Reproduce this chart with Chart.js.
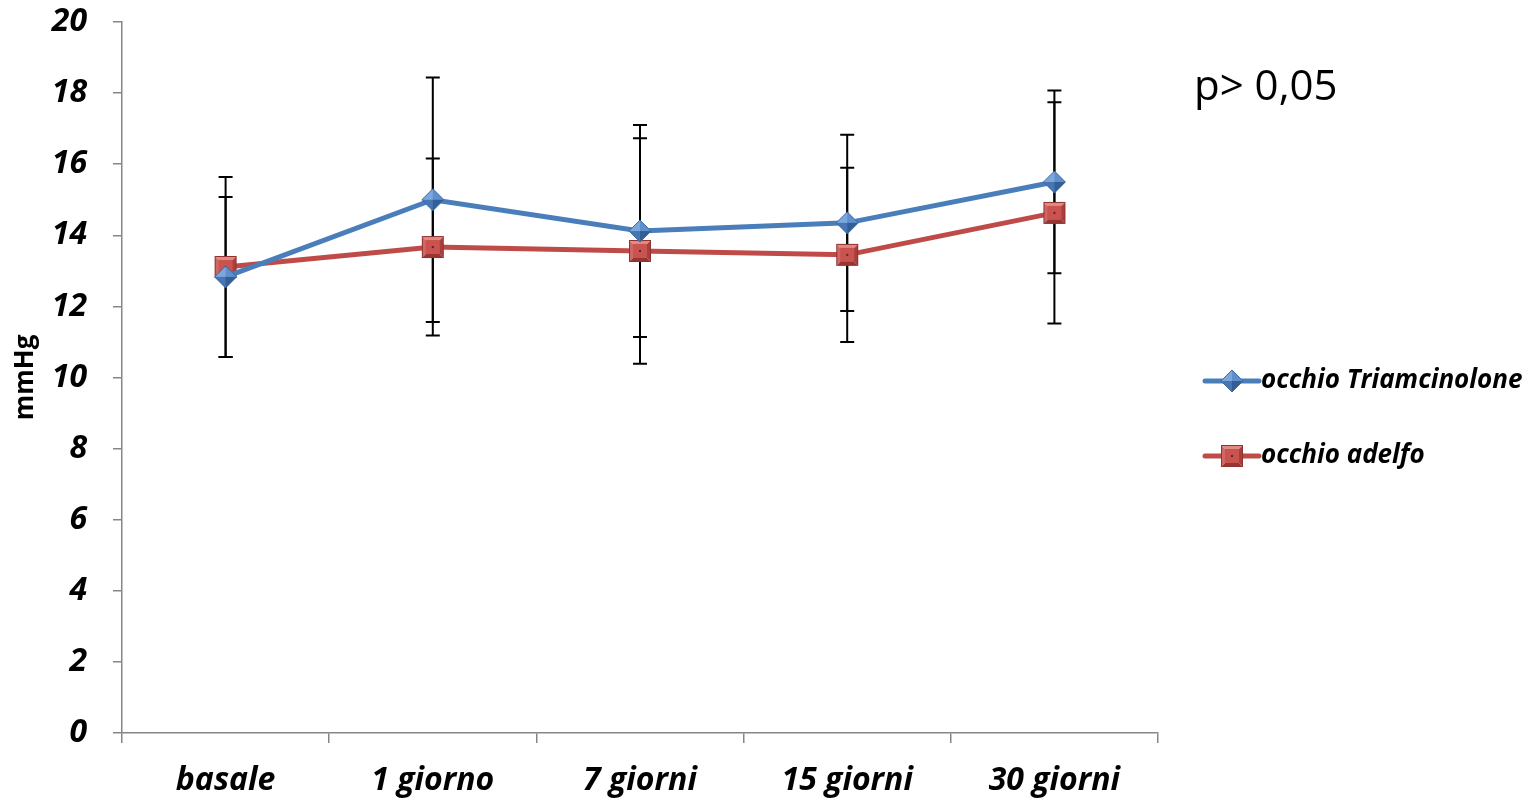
<!DOCTYPE html>
<html lang="it">
<head>
  <meta charset="UTF-8">
  <title>Pressione intraoculare</title>
  <script src="https://cdn.jsdelivr.net/npm/chart.js"></script>
  <style>
    html, body { margin: 0; padding: 0; background: #fff; }
    #wrap { width: 1528px; height: 800px; }
  </style>
</head>
<body>
<div id="wrap"><canvas id="iopChart" width="1528" height="800"></canvas></div>

<script>
  // data
  const categories = ["basale", "1 giorno", "7 giorni", "15 giorni", "30 giorni"];
  const triamValues = [12.83, 15.0, 14.12, 14.35, 15.5];
  const triamErr = [2.25, 3.44, 2.98, 2.48, 2.57];
  const adelfoValues = [13.11, 13.67, 13.56, 13.45, 14.63];
  const adelfoErr = [2.53, 2.49, 3.17, 2.45, 3.11];
  const yMin = 0, yMax = 20, yStep = 2;
  const pNote = "p> 0,05";

  const blue = "#4a7ebb";
  const red = "#be4b48";
  const axisGrey = "#868686";
  const fontFam = "'Open Sans', Lato, sans-serif";

  // bevelled marker images, a bit like the office ones
  function diamondMarker() {
    const c = document.createElement("canvas");
    c.width = 24; c.height = 24;
    const g = c.getContext("2d");
    const m = 12;
    const facets = [
      [[m, 1], [1, m], "#7aa7dc"],
      [[m, 1], [23, m], "#5f8fcc"],
      [[1, m], [m, 23], "#4677b4"],
      [[23, m], [m, 23], "#345f96"]
    ];
    for (const [a, b, col] of facets) {
      g.beginPath();
      g.moveTo(m, m); g.lineTo(a[0], a[1]); g.lineTo(b[0], b[1]); g.closePath();
      g.fillStyle = col; g.fill();
    }
    g.beginPath();
    g.moveTo(m, 1); g.lineTo(23, m); g.lineTo(m, 23); g.lineTo(1, m); g.closePath();
    g.strokeStyle = "#3d6aa3"; g.lineWidth = 1; g.stroke();
    return c;
  }

  function squareMarker() {
    const c = document.createElement("canvas");
    c.width = 24; c.height = 24;
    const g = c.getContext("2d");
    const o0 = 1, o1 = 23, i0 = 5, i1 = 19;
    const quad = (pts, col) => {
      g.beginPath();
      g.moveTo(pts[0][0], pts[0][1]);
      for (const p of pts.slice(1)) g.lineTo(p[0], p[1]);
      g.closePath(); g.fillStyle = col; g.fill();
    };
    quad([[o0, o0], [o1, o0], [i1, i0], [i0, i0]], "#e08a86");
    quad([[o0, o0], [i0, i0], [i0, i1], [o0, o1]], "#cf6764");
    quad([[o1, o0], [o1, o1], [i1, i1], [i1, i0]], "#a83f3c");
    quad([[o0, o1], [i0, i1], [i1, i1], [o1, o1]], "#963532");
    g.fillStyle = "#c9534f";
    g.fillRect(i0, i0, i1 - i0, i1 - i0);
    g.fillStyle = "#6e2220";
    g.fillRect(11, 11, 2, 2);
    g.strokeStyle = "#8f3230"; g.lineWidth = 1;
    g.strokeRect(o0 + 0.5, o0 + 0.5, o1 - o0 - 1, o1 - o0 - 1);
    return c;
  }

  const triamMarker = diamondMarker();
  const adelfoMarker = squareMarker();

  const errorBars = {
    id: "errorBars",
    beforeDatasetsDraw(chart) {
      const ctx = chart.ctx;
      const y = chart.scales.y;
      ctx.save();
      ctx.strokeStyle = "#000";
      ctx.lineWidth = 2;
      chart.data.datasets.forEach((ds, di) => {
        const meta = chart.getDatasetMeta(di);
        meta.data.forEach((pt, i) => {
          const v = ds.data[i], e = ds.errors[i];
          const top = y.getPixelForValue(v + e);
          const bot = y.getPixelForValue(v - e);
          ctx.beginPath();
          ctx.moveTo(pt.x, top); ctx.lineTo(pt.x, bot);
          ctx.moveTo(pt.x - 7, top); ctx.lineTo(pt.x + 7, top);
          ctx.moveTo(pt.x - 7, bot); ctx.lineTo(pt.x + 7, bot);
          ctx.stroke();
        });
      });
      ctx.restore();
    }
  };

  const sideNotes = {
    id: "sideNotes",
    afterDraw(chart) {
      const ctx = chart.ctx;
      ctx.save();
      ctx.fillStyle = "#000";
      ctx.font = "42px " + fontFam;
      ctx.textBaseline = "middle";
      ctx.textAlign = "left";
      ctx.fillText(pNote, 1194, 88);

      const rows = [381, 456];
      const markers = [triamMarker, adelfoMarker];
      chart.data.datasets.forEach((ds, i) => {
        const yy = rows[i];
        ctx.strokeStyle = ds.borderColor;
        ctx.lineWidth = 5;
        ctx.lineCap = "round";
        ctx.beginPath();
        ctx.moveTo(1205, yy); ctx.lineTo(1259, yy);
        ctx.stroke();
        ctx.drawImage(markers[i], 1220, yy - 12);
        ctx.font = "italic bold 26px " + fontFam;
        ctx.fillStyle = "#000";
        ctx.fillText(ds.label, 1261, yy);
      });
      ctx.restore();
    }
  };

  new Chart(document.getElementById("iopChart").getContext("2d"), {
    type: "line",
    data: {
      labels: categories,
      datasets: [
        {
          label: "occhio Triamcinolone",
          data: triamValues,
          errors: triamErr,
          borderColor: blue,
          backgroundColor: blue,
          borderWidth: 5,
          tension: 0,
          pointStyle: triamMarker,
          pointRadius: 12
        },
        {
          label: "occhio adelfo",
          data: adelfoValues,
          errors: adelfoErr,
          borderColor: red,
          backgroundColor: red,
          borderWidth: 5,
          tension: 0,
          pointStyle: adelfoMarker,
          pointRadius: 12
        }
      ]
    },
    options: {
      responsive: false,
      animation: false,
      layout: { autoPadding: false, padding: { top: 22, right: 370, left: 0, bottom: 0 } },
      plugins: {
        legend: { display: false },
        tooltip: { enabled: false }
      },
      scales: {
        x: {
          offset: true,
          grid: {
            offset: true,
            drawOnChartArea: false,
            color: axisGrey,
            tickLength: 10,
            lineWidth: 1.5
          },
          border: { display: true, color: axisGrey, width: 1.5 },
          ticks: {
            color: "#000",
            padding: 19,
            font: { family: fontFam, size: 32, weight: "bold", style: "italic" }
          },
          afterFit(scale) {
            scale.height = 67;
            scale.paddingLeft = 0; scale.paddingRight = 0;
          }
        },
        y: {
          min: yMin,
          max: yMax,
          grid: {
            drawOnChartArea: false,
            color: axisGrey,
            tickLength: 9,
            lineWidth: 1.5
          },
          border: { display: true, color: axisGrey, width: 1.5 },
          ticks: {
            stepSize: yStep,
            color: "#000",
            padding: 26,
            font: { family: fontFam, size: 32, weight: "bold", style: "italic" }
          },
          title: {
            display: true,
            text: "mmHg",
            color: "#000",
            padding: { top: 10, bottom: 0 },
            font: { family: fontFam, size: 26, weight: "bold" }
          },
          afterFit(scale) {
            scale.width = 122;
            scale.paddingTop = 0; scale.paddingBottom = 0;
          }
        }
      }
    },
    plugins: [errorBars, sideNotes]
  });
</script>
</body>
</html>
